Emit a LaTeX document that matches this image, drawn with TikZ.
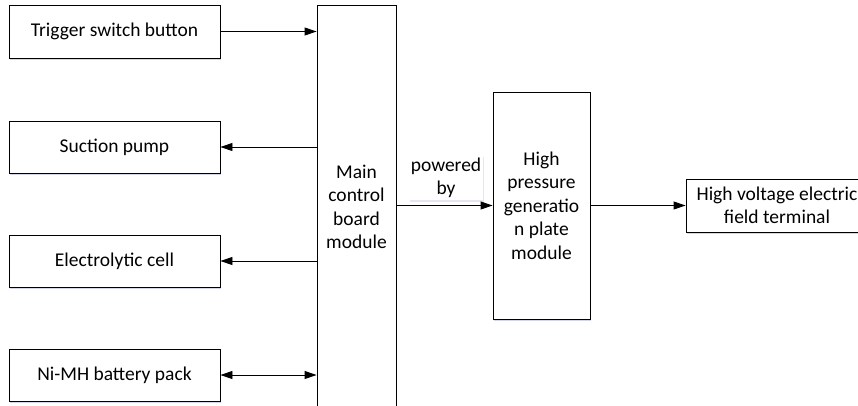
\documentclass[tikz,border=0pt]{standalone}
\usepackage{fontspec}
\setmainfont{Carlito}
\usetikzlibrary{arrows.meta,shadows}
\begin{document}
\begin{tikzpicture}[x=1pt,y=-1pt,
  box/.style={draw=black, line width=0.9pt, fill=white, rectangle, inner sep=0pt, align=center,
    font=\fontsize{19.5}{23.5}\selectfont,
    drop shadow={shadow xshift=1.2pt, shadow yshift=-1.8pt, fill=blue!30!gray, opacity=0.25}},
  conn/.style={line width=0.9pt, draw=black},
  tip/.tip={Triangle[length=12pt,width=8pt]}
]
\useasboundingbox (0,0) rectangle (858,405);
\begin{scope}
\clip (0,0) rectangle (858,405);
\node[box, minimum width=211pt, minimum height=53pt] (trig) at (114.5,31.5) {Trigger switch button};
\node[box, minimum width=211pt, minimum height=52pt] (suc) at (114.5,147) {Suction pump};
\node[box, minimum width=211pt, minimum height=52pt] (elec) at (114.5,261) {Electrolytic cell};
\node[box, minimum width=211pt, minimum height=52pt] (nimh) at (114.5,375) {Ni-MH battery pack};
\node[box, minimum width=79pt, minimum height=404pt] (main) at (356.5,207) {Main\\control\\board\\module};
\node[box, minimum width=97pt, minimum height=227pt] (hp) at (541.5,205.5) {High\\pressure\\generatio\\n plate\\module};
\node[box, minimum width=182pt, minimum height=53pt] (hv) at (777,205.5) {High voltage electric\\field terminal};
\node[fill=white, inner sep=2pt, align=center, font=\fontsize{19.5}{23.5}\selectfont,
  drop shadow={shadow xshift=1pt, shadow yshift=-1.5pt, fill=blue!30!gray, opacity=0.15}] (lbl) at (446,178) {powered\\by};
\draw[conn, -tip] (trig.east) -- (trig.east -| main.west);
\draw[conn, -tip] (main.west |- suc.east) -- (suc.east);
\draw[conn, -tip] (main.west |- elec.east) -- (elec.east);
\draw[conn, tip-tip] (nimh.east) -- (nimh.east -| main.west);
\draw[conn, -tip] (main.east |- hp.west) -- (hp.west);
\draw[conn, -tip] (hp.east) -- (hv.west);
\end{scope}
\end{tikzpicture}
\end{document}
